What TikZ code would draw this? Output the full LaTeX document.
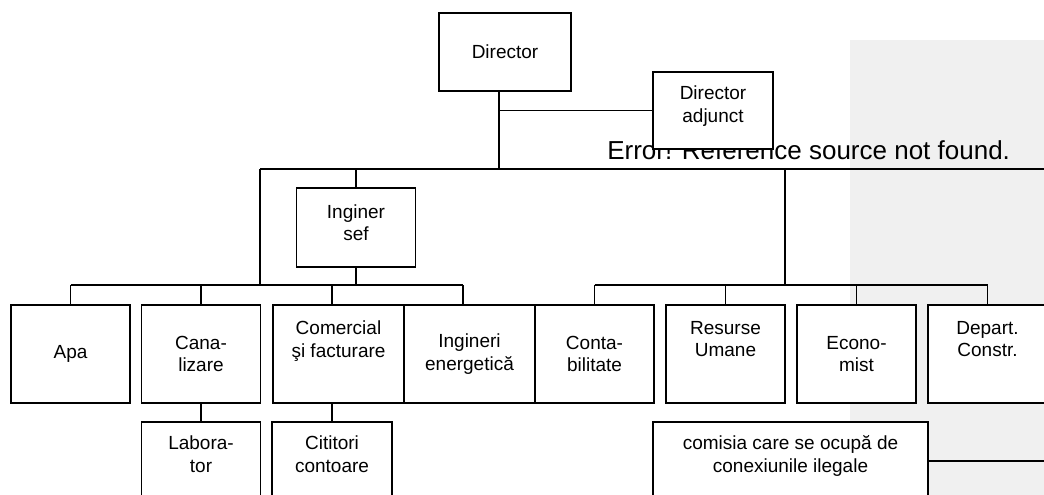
\documentclass[tikz,border=0pt]{standalone}
\usepackage{fontspec}
\setmainfont{Liberation Sans}
\usetikzlibrary{positioning,calc}
\definecolor{Sheet}{HTML}{F0F0F0}

\begin{document}
\begin{tikzpicture}[x=0.75pt,y=-0.75pt,
  box/.style={draw=black,fill=white,line width=1.1pt,inner sep=0pt,minimum width=89.25pt,minimum height=73.5pt,align=center,font=\fontsize{14.25pt}{17pt}\selectfont},
  wide/.style={minimum width=98.25pt},
  link/.style={line width=1.1pt,draw=black}
]
\clip (0,0) rectangle (1044,495);
\fill[Sheet] (850,40) rectangle (1044,495);
\node[anchor=base west,inner sep=0pt,font=\fontsize{19.5pt}{23pt}\selectfont] (err) at (607,160) {Error! Reference source not found.};
% top of the chart
\node[box,minimum width=99pt,minimum height=58.5pt] (dir) at (505,52) {Director};
\node[box,minimum width=90pt,minimum height=57.75pt] (adj) at (713,110.5) {Director\\adjunct\\[-7pt]\mbox{}};
\node[box,minimum height=59.25pt] (ing) at (356,227.5) {Inginer\\sef\\[-9.5pt]\mbox{}};
% departments
\node[box] (apa) at (70.5,354) {Apa};
\node[box] (can) at (201,354) {Cana-\\lizare};
\node[box,wide] (com) at (338.5,354) {Comercial\\şi facturare\\[5.5pt]\mbox{}};
\node[box,wide] (ener) at (469.5,354) {Ingineri\\energetică};
\node[box] (cont) at (594.5,354) {Conta-\\bilitate};
\node[box] (hr) at (725.5,354) {Resurse\\Umane\\[5.5pt]\mbox{}};
\node[box] (eco) at (856.5,354) {Econo-\\mist};
\node[box] (dep) at (987.5,354) {Depart.\\Constr.\\[5.5pt]\mbox{}};
% lower row
\node[box] (lab) at (201,471) {Labora-\\tor\\[8.5pt]\mbox{}};
\node[box,minimum width=90pt] (cit) at (332,471) {Cititori\\contoare\\[8.5pt]\mbox{}};
\node[box,minimum width=206.25pt] (ileg) at (790.5,471) {comisia care se ocupă de\\conexiunile ilegale\\[8.5pt]\mbox{}};
% bus lines
\coordinate (top) at (499,169);
\coordinate (topL) at (260,169);
\coordinate (topR) at (1044,169);
\coordinate (rdrop) at (785,169);
\coordinate (lbus) at (0,285);
\coordinate (edge) at (1044,461);
\draw[link] (dir.south -| top) -- (top);
\draw[link] (adj.west) -- (adj.west -| top);
\draw[link] (topL) -- (topR);
\draw[link] (topL) -- (topL |- lbus);
\draw[link] (ing.north |- top) -- (ing.north);
\draw[link] (ing.south) -- (ing.south |- lbus);
\draw[link] (rdrop) -- (rdrop |- lbus);
\draw[link] (apa.north |- lbus) -- ($(ener.north |- lbus)+(-6.5,0)$);
\draw[link] (cont.north |- lbus) -- (dep.north |- lbus);
\foreach \b in {apa,can,cont,hr,eco,dep}
  \draw[link] (\b.north |- lbus) -- (\b.north);
\draw[link] (cit |- lbus) -- (cit |- com.north);
\draw[link] ($(ener.north |- lbus)+(-6.5,0)$) -- ($(ener.north)+(-6.5,0)$);
\draw[link] (can.south) -- (lab.north);
\draw[link] (cit |- com.south) -- (cit.north);
\draw[link] (ileg.east |- edge) -- (edge);
\end{tikzpicture}
\end{document}
